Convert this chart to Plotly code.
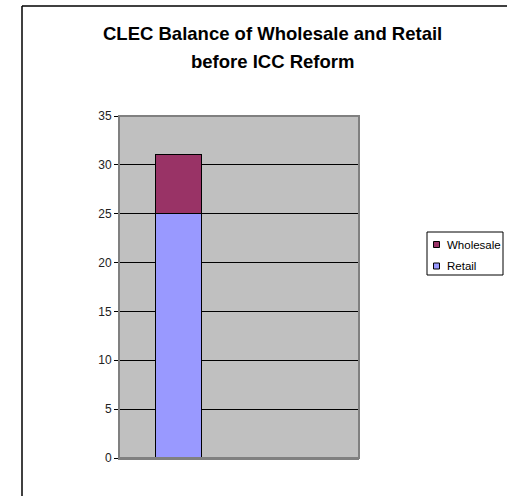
import plotly.graph_objects as go

categories = ["Before ICC Reform", "  "]
series_names = ["Retail", "Wholesale"]
retail = [25, None]
wholesale = [6, None]
y_ticks = [0, 5, 10, 15, 20, 25, 30, 35]
title_lines = ["CLEC Balance of Wholesale and Retail", "before ICC Reform"]

colors = {"Retail": "#9999FF", "Wholesale": "#993366"}

W, H = 507, 496
L, R, T, B = 119, 148, 116, 38
pw = W - L - R
ph = H - T - B

def px_x(px):
    return (px - L) / pw

def px_y(py):
    return (H - B - py) / ph

font_family = "Liberation Sans, Arial, sans-serif"

fig = go.Figure()
for name, vals in zip(series_names, [retail, wholesale]):
    fig.add_trace(go.Bar(name=name, x=categories, y=vals, showlegend=False,
                         marker=dict(color=colors[name], line=dict(color="#000000", width=1.5)),
                         width=0.39))

fig.update_layout(
    width=W, height=H,
    margin=dict(l=L, r=R, t=T, b=B, autoexpand=False),
    barmode="stack",
    paper_bgcolor="#FFFFFF",
    plot_bgcolor="#C0C0C0",
    font=dict(family=font_family, size=11, color="#000000"),
    showlegend=False,
    bargap=0,
)
fig.update_xaxes(type="category", range=[-0.5, 1.5], showticklabels=False, ticks="",
                 showgrid=False, showline=True, linecolor="#808080", linewidth=2,
                 zeroline=False, fixedrange=True)
fig.update_yaxes(range=[0, 35], tickvals=y_ticks, showgrid=True, gridcolor="#000000",
                 gridwidth=1, ticks="outside", ticklen=4, tickcolor="#000000",
                 showline=True, linecolor="#000000", linewidth=1, zeroline=False,
                 tickfont=dict(size=12, color="#222222"))

# title lines
for i, line in enumerate(title_lines):
    fig.add_annotation(text="<b>%s</b>" % line, xref="paper", yref="paper",
                       x=px_x(272), y=px_y(33 + 29 * i), xanchor="center", yanchor="middle",
                       showarrow=False, font=dict(family=font_family, size=18.5, color="#000000"))

# plot area border (gray)
fig.add_shape(type="rect", xref="paper", yref="paper", x0=0, x1=1, y0=0, y1=1,
              line=dict(color="#808080", width=2), layer="above")
# outer chart frame (left and top visible)
fig.add_shape(type="line", xref="paper", yref="paper",
              x0=px_x(22), x1=px_x(22), y0=px_y(6), y1=px_y(H + 5),
              line=dict(color="#000000", width=1.5))
fig.add_shape(type="line", xref="paper", yref="paper",
              x0=px_x(22), x1=px_x(W + 5), y0=px_y(6), y1=px_y(6),
              line=dict(color="#000000", width=1.5))

# legend (manual, Wholesale on top)
fig.add_shape(type="rect", xref="paper", yref="paper",
              x0=px_x(427), x1=px_x(503), y0=px_y(232), y1=px_y(275),
              line=dict(color="#000000", width=1), fillcolor="#FFFFFF")
for j, name in enumerate(["Wholesale", "Retail"]):
    cy = 244.5 + 21.5 * j
    fig.add_shape(type="rect", xref="paper", yref="paper",
                  x0=px_x(433.5), x1=px_x(439.5), y0=px_y(cy + 3), y1=px_y(cy - 3),
                  line=dict(color="#000000", width=1), fillcolor=colors[name])
    fig.add_annotation(text=name, xref="paper", yref="paper",
                       x=px_x(445), y=px_y(cy), xanchor="left", yanchor="middle",
                       showarrow=False, font=dict(family=font_family, size=11.5, color="#000000"))

fig.write_html("out.html")
